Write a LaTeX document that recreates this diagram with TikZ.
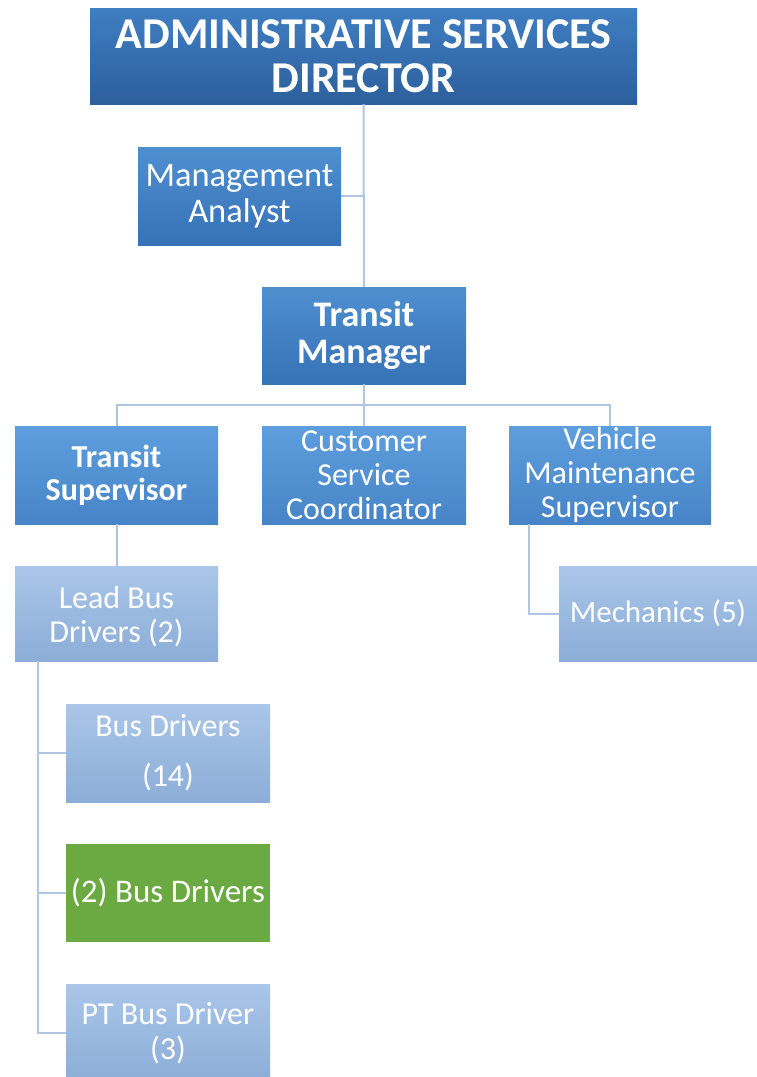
\documentclass[tikz,border=0pt]{standalone}
\usepackage{fontspec}
\setmainfont{Carlito}
\begin{document}
\begin{tikzpicture}[x=1pt,y=-1pt,
  box/.style={rectangle, inner sep=0pt, align=center, text=white},
  lvlA/.style={box, top color=dirTop, bottom color=dirBot},
  lvlB/.style={box, top color=midTop, bottom color=midBot},
  lvlC/.style={box, top color=thrTop, bottom color=thrBot},
  lvlD/.style={box, top color=pale Top, bottom color=pale Bot},
  greenbox/.style={box, fill=grn},
  link/.style={draw=linkc, line width=2pt}
]
\definecolor{dirTop}{HTML}{3F7EC2}
\definecolor{dirBot}{HTML}{2C5F9C}
\definecolor{midTop}{HTML}{4F8FD0}
\definecolor{midBot}{HTML}{3672B6}
\definecolor{thrTop}{HTML}{5E9EDD}
\definecolor{thrBot}{HTML}{4684C7}
\definecolor{pale Top}{HTML}{AAC6E9}
\definecolor{pale Bot}{HTML}{8BADD7}
\definecolor{grn}{HTML}{6BAA42}
\definecolor{linkc}{HTML}{AFC5E0}

\useasboundingbox (0,0) rectangle (757,1077);
\clip (0,0) rectangle (757,1077);
\fill[white] (0,0) rectangle (757,1077);

% nodes
\node[lvlA, minimum width=547pt, minimum height=96pt,
      font=\fontsize{44}{44}\selectfont\bfseries] (dir) at (363.5,56)
  {ADMINISTRATIVE SERVICES\\DIRECTOR};
\node[lvlB, minimum width=203pt, minimum height=98pt,
      font=\fontsize{34.5}{36}\selectfont] (ma) at (239.5,196)
  {Management\\Analyst};
\node[lvlB, minimum width=204pt, minimum height=97pt,
      font=\fontsize{36}{37}\selectfont\bfseries] (tm) at (364,335.5)
  {Transit\\Manager};
\node[lvlC, minimum width=203pt, minimum height=98pt,
      font=\fontsize{32}{33}\selectfont\bfseries] (ts) at (116.5,475)
  {Transit\\Supervisor};
\node[lvlC, minimum width=204pt, minimum height=98pt,
      font=\fontsize{32}{34}\selectfont] (csc) at (364,475)
  {Customer\\Service\\Coordinator};
\node[lvlC, minimum width=202pt, minimum height=98pt,
      font=\fontsize{32}{34}\selectfont] (vms) at (610,475)
  {Vehicle\\Maintenance\\Supervisor};
\node[lvlD, minimum width=203pt, minimum height=95pt,
      font=\fontsize{32}{34}\selectfont] (lbd) at (116.5,613.5)
  {\raisebox{-5pt}[\height][\depth]{\begin{tabular}{@{}c@{}}Lead Bus\\Drivers (2)\end{tabular}}};
\node[lvlD, minimum width=198pt, minimum height=95pt,
      font=\fontsize{31}{34}\selectfont] (mech) at (658,613.5)
  {Mechanics (5)};
\node[lvlD, minimum width=204pt, minimum height=98pt,
      font=\fontsize{32}{50}\selectfont] (bd14) at (168,753)
  {Bus Drivers\\(14)};
\node[greenbox, minimum width=204pt, minimum height=98pt,
      font=\fontsize{33}{34}\selectfont] (bd2) at (168,893)
  {(2) Bus Drivers};
\node[lvlD, minimum width=204pt, minimum height=98pt,
      font=\fontsize{32}{35}\selectfont] (pt) at (168,1033)
  {PT Bus Driver\\(3)};

% connectors
\draw[link] (dir.south) -- (tm.north);
\draw[link] (ma.east) -- (ma.east -| dir.south);
\draw[link] (tm.south) -- ++(0,21) coordinate (bus);
\draw[link] (ts.north) |- (bus) -| (vms.north);
\draw[link] (bus) -- (csc.north);
\draw[link] (ts.south) -- (lbd.north);
\draw[link] ([xshift=20pt]vms.south west) |- (mech.west);
\draw[link] ([xshift=23pt]lbd.south west) |- (bd14.west);
\draw[link] ([xshift=23pt]lbd.south west) |- (bd2.west);
\draw[link] ([xshift=23pt]lbd.south west) |- (pt.west);
\end{tikzpicture}
\end{document}
